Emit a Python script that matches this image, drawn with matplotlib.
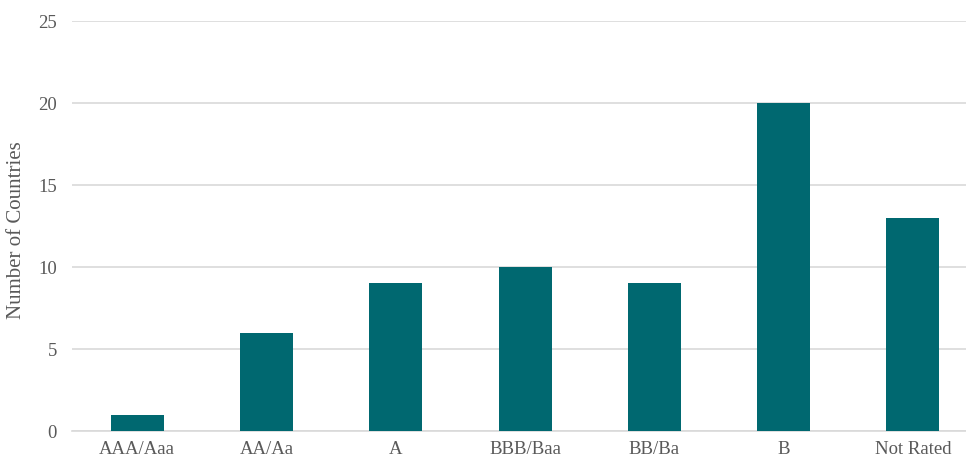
import matplotlib
matplotlib.use('Agg')
from matplotlib import pyplot as plt

ratings = ['AAA/Aaa', 'AA/Aa', 'A', 'BBB/Baa', 'BB/Ba', 'B', 'Not Rated']
countries = [1, 6, 9, 10, 9, 20, 13]

plt.rcParams['font.family'] = ['Liberation Serif', 'DejaVu Serif']

fig = plt.figure(figsize=(9.66, 4.61), dpi=100)
ax = fig.add_axes([72.4/966, 30/461, (966-72.4)/966, 410/461])

x = range(len(ratings))
ax.bar(x, countries, width=0.41, color='#006870', zorder=3)

ax.set_xlim(-0.5, 6.41)
ax.set_ylim(0, 25)
ax.set_yticks(range(0, 26, 5))
ax.set_xticks(list(x))
ax.set_xticklabels(ratings)

ax.grid(axis='y', color='#d9d9d9', lw=1.2, zorder=0)
for s in ['top', 'right', 'left']:
    ax.spines[s].set_visible(False)
ax.spines['bottom'].set_color('#d9d9d9')
ax.spines['bottom'].set_linewidth(1.2)
ax.tick_params(axis='both', length=0, labelsize=13.5, colors='#595959')
ax.tick_params(axis='y', pad=11)
ax.tick_params(axis='x', pad=7)
ax.set_ylabel('Number of Countries', fontsize=15, color='#595959')
ax.yaxis.set_label_coords(-0.052, 0.49)

fig.savefig('out.png', dpi=100)
